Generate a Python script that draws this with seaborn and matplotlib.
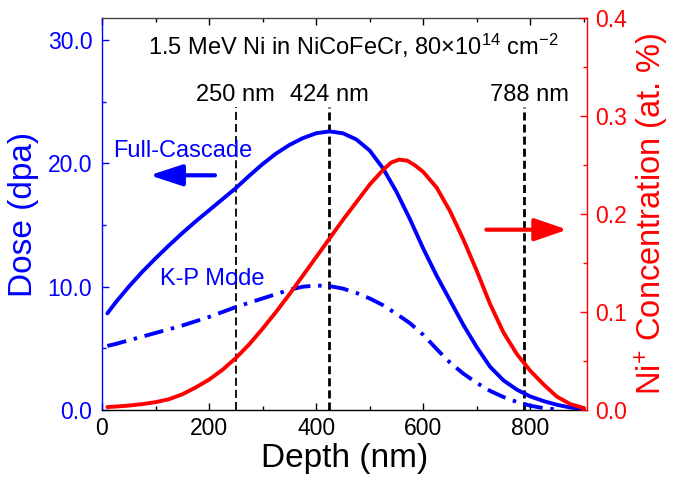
import matplotlib
matplotlib.use("Agg")
import matplotlib.pyplot as plt
import pandas as pd
import seaborn as sns
from matplotlib.ticker import MultipleLocator, FormatStrFormatter

# ---------------- data ----------------
depth_fc = [10, 25, 50, 75, 100, 125, 150, 175, 200, 225, 250, 275, 300, 325, 350,
            375, 400, 425, 450, 475, 500, 525, 550, 575, 600, 625, 650, 675, 700,
            725, 750, 775, 800, 825, 850, 875, 900]
dose_fc = [7.84, 8.7, 10.0, 11.2, 12.3, 13.35, 14.35, 15.3, 16.2, 17.1, 18.0, 19.0,
           19.95, 20.8, 21.5, 22.05, 22.45, 22.6, 22.45, 21.95, 21.05, 19.6, 17.7,
           15.5, 13.1, 10.9, 8.9, 6.9, 5.1, 3.5, 2.4, 1.65, 1.1, 0.72, 0.42, 0.2,
           0.06]

depth_kp = [10, 25, 50, 75, 100, 125, 150, 175, 200, 225, 250, 275, 300, 325, 350,
            375, 400, 425, 450, 475, 500, 525, 550, 575, 600, 625, 650, 675, 700,
            725, 750, 775, 800, 825, 850]
dose_kp = [5.2, 5.35, 5.65, 5.95, 6.25, 6.55, 6.85, 7.2, 7.55, 7.95, 8.35, 8.7,
           9.05, 9.4, 9.75, 10.0, 10.1, 10.05, 9.85, 9.5, 9.05, 8.5, 7.8, 7.05, 6.1,
           4.95, 3.85, 2.95, 2.2, 1.55, 1.05, 0.65, 0.35, 0.15, 0.04]

depth_ni = [10, 25, 50, 75, 100, 125, 150, 175, 200, 225, 250, 275, 300, 325, 350,
            375, 400, 425, 450, 475, 500, 525, 540, 555, 570, 585, 600, 625, 650,
            675, 700, 725, 750, 775, 800, 825, 850, 875, 900]
conc_ni = [0.003, 0.0035, 0.0045, 0.006, 0.008, 0.011, 0.016, 0.023, 0.031, 0.041,
           0.053, 0.067, 0.083, 0.100, 0.118, 0.137, 0.156, 0.175, 0.194, 0.212,
           0.230, 0.245, 0.2525, 0.2555, 0.2545, 0.2495, 0.243, 0.227, 0.203, 0.174,
           0.142, 0.108, 0.079, 0.057, 0.040, 0.026, 0.0135, 0.006, 0.002]

marker_depths = [250, 424, 788]
marker_labels = ["250 nm", "424 nm", "788 nm"]

title_text = "1.5 MeV Ni in NiCoFeCr, 80\u00d710$^{14}$ cm$^{-2}$"

# ---------------- style ----------------
sns.set_theme(style="ticks")
plt.rcParams["font.family"] = ["Liberation Sans", "DejaVu Sans"]
plt.rcParams["mathtext.fontset"] = "custom"
plt.rcParams["mathtext.rm"] = "Liberation Sans"
plt.rcParams["mathtext.it"] = "Liberation Sans:italic"
plt.rcParams["mathtext.bf"] = "Liberation Sans:bold"

BLUE = "#0000FF"
RED = "#FF0000"

fig = plt.figure(figsize=(6.73, 4.82), dpi=100)
ax = fig.add_axes([102 / 673, 1 - 410 / 482, (586.5 - 102) / 673, (410 - 18) / 482])
ax2 = ax.twinx()

df_fc = pd.DataFrame({"depth": depth_fc, "dose": dose_fc})
df_kp = pd.DataFrame({"depth": depth_kp, "dose": dose_kp})
df_ni = pd.DataFrame({"depth": depth_ni, "conc": conc_ni})

LW = 2.8
sns.lineplot(data=df_fc, x="depth", y="dose", ax=ax, color=BLUE, lw=LW,
             solid_capstyle="round", solid_joinstyle="round")
sns.lineplot(data=df_kp, x="depth", y="dose", ax=ax, color=BLUE, lw=LW,
             linestyle=(0, (5.0, 2.0, 0.9, 2.0)), dash_joinstyle="round")
sns.lineplot(data=df_ni, x="depth", y="conc", ax=ax2, color=RED, lw=LW,
             solid_capstyle="round", solid_joinstyle="round")

# dashed marker lines
for d, w in zip(marker_depths, [1.3, 2.0, 2.0]):
    ax.vlines(d, 0, 24.55, colors="black", lw=w,
              linestyles=[(0, (5.8 / w, 2.9 / w))], zorder=1)

# limits
ax.set_xlim(0, 905)
ax.set_ylim(0, 31.8)
ax2.set_ylim(0, 0.4)

# ticks
ax.xaxis.set_major_locator(MultipleLocator(200))
ax.xaxis.set_minor_locator(MultipleLocator(100))
ax.yaxis.set_major_locator(MultipleLocator(10))
ax.yaxis.set_minor_locator(MultipleLocator(5))
ax.yaxis.set_major_formatter(FormatStrFormatter("%.1f"))
ax2.yaxis.set_major_locator(MultipleLocator(0.1))
ax2.yaxis.set_minor_locator(MultipleLocator(0.05))
ax2.yaxis.set_major_formatter(FormatStrFormatter("%.1f"))

ax.tick_params(axis="x", which="both", direction="in", top=True, bottom=True,
               colors="black", labelsize=16.5, pad=5)
ax.tick_params(axis="x", which="major", length=5, width=1)
ax.tick_params(axis="x", which="minor", length=3, width=1)
ax.tick_params(axis="y", which="both", direction="in", left=True, right=False,
               colors=BLUE, labelsize=16.5, pad=7)
ax.tick_params(axis="y", which="major", length=5, width=1)
ax.tick_params(axis="y", which="minor", length=3, width=1)
ax2.tick_params(axis="y", which="both", direction="in", right=True, left=False,
                colors=RED, labelsize=16.5, pad=6)
ax2.tick_params(axis="y", which="major", length=5, width=1)
ax2.tick_params(axis="y", which="minor", length=3, width=1)

# spines
for a in (ax, ax2):
    for s in a.spines.values():
        s.set_linewidth(1.0)
ax.spines["left"].set_color(BLUE)
ax.spines["bottom"].set_color("black")
ax.spines["top"].set_color("#444444")
ax.spines["right"].set_visible(False)
ax2.spines["left"].set_visible(False)
ax2.spines["top"].set_visible(False)
ax2.spines["bottom"].set_visible(False)
ax2.spines["right"].set_color(RED)

# labels
ax.set_xlabel("Depth (nm)", fontsize=24, color="black", labelpad=2)
ax.set_ylabel("Dose (dpa)", fontsize=24, color=BLUE, labelpad=6)
ax2.set_ylabel("Ni$^{+}$ Concentration (at. %)", fontsize=23.5, color=RED, labelpad=4)

# texts
ax.text(469, 28.77, title_text, fontsize=17, color="black", ha="center", va="baseline")
for d, lab, off in zip(marker_depths, marker_labels, [0, 0, 10]):
    ax.text(d + off, 25.1, lab, fontsize=17, color="black", ha="center", va="baseline")
ax.text(20, 20.5, "Full-Cascade", fontsize=17, color=BLUE, ha="left", va="baseline")
ax.text(108, 10.13, "K-P Mode", fontsize=17, color=BLUE, ha="left", va="baseline")

# arrows
ax.annotate("", xy=(89, 19.04), xytext=(211, 19.04),
            arrowprops=dict(arrowstyle="-|>,head_length=1.1,head_width=0.36",
                            color=BLUE, lw=3, mutation_scale=18, shrinkA=0, shrinkB=0))
ax2.annotate("", xy=(869, 0.1840), xytext=(718, 0.1840),
             arrowprops=dict(arrowstyle="-|>,head_length=1.1,head_width=0.38",
                             color=RED, lw=3, mutation_scale=18, shrinkA=0, shrinkB=0))

fig.savefig("out.png", dpi=100)
